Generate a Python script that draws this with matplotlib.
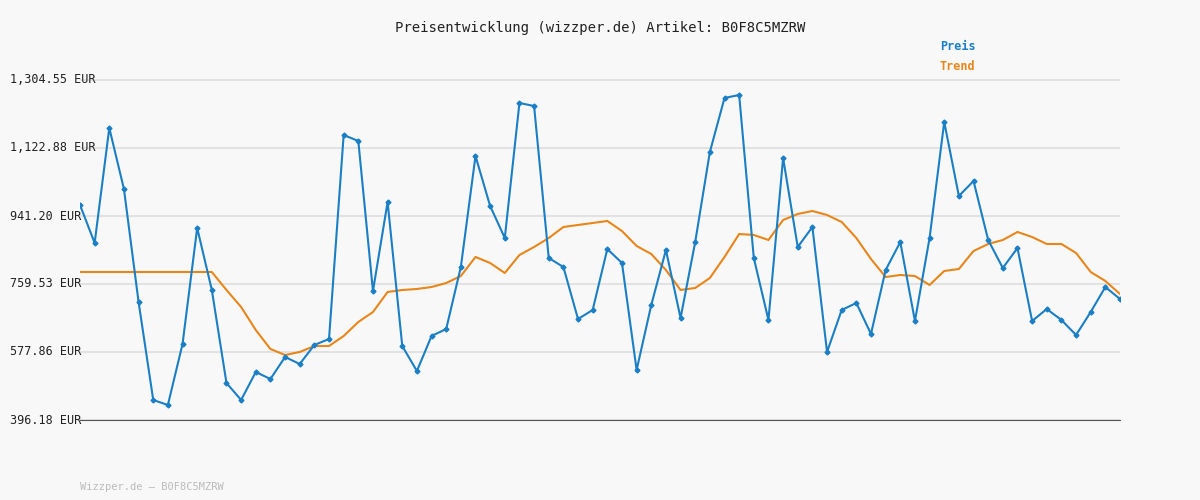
import matplotlib
matplotlib.use("Agg")
import matplotlib.pyplot as plt

preis = [970.6,869.1,1176.3,1013.3,711.4,449.6,436.3,599.2,909.2,743.5,
495.0,449.6,524.4,505.7,564.5,545.8,596.6,612.6,1157.6,1141.6,
740.8,978.6,593.9,527.1,620.6,639.3,805.0,1101.5,967.9,882.4,
1243.1,1235.1,829.0,805.0,666.0,690.1,853.0,815.6,529.8,703.4,
850.4,668.7,871.7,1112.2,1256.5,1264.5,829.0,663.4,1096.2,858.4,
911.8,577.9,690.1,708.8,626.0,796.9,871.7,660.7,882.4,1192.4,
994.6,1034.7,877.1,802.3,855.7,660.7,692.7,663.4,623.3,684.7,751.5,719.5]
trend = [791.6]*10 + [743.5,698.1,636.6,585.9,569.8,577.9,593.9,593.9,620.6,658.0,
684.7,738.2,743.5,746.2,751.5,762.2,780.9,831.7,815.6,788.9,
837.0,858.4,882.4,911.8,917.2,922.5,927.9,901.1,861.1,839.7,
796.9,743.5,748.9,775.6,831.7,893.1,890.5,877.1,930.5,946.6,
954.6,943.9,925.2,882.4,826.3,778.2,783.6,780.9,756.9,794.3,
799.6,847.7,866.4,877.1,898.5,885.1,866.4,866.4,842.4,791.6,767.6,732.8]
yticks = [396.18,577.86,759.53,941.20,1122.88,1304.55]
title = "Preisentwicklung (wizzper.de) Artikel: B0F8C5MZRW"

plt.rcParams['font.family'] = 'DejaVu Sans Mono'
fig = plt.figure(figsize=(12,5), dpi=100, facecolor='#f8f8f8')
ax = fig.add_axes([80/1200, 80/500, 1040/1200, 360/500])
ax.set_facecolor('#f8f8f8')
x = list(range(len(preis)))
ax.set_xlim(0, len(preis)-1)
step = (yticks[-1]-yticks[0])/340
ax.set_ylim(yticks[0], yticks[0]+360*step)
for v in yticks:
    ax.axhline(v, color='#e2e2e2', lw=1.5, zorder=0)
    ax.text(-70/1040*(len(preis)-1), v, f"{v:,.2f} EUR", ha='left', va='center',
            fontsize=8.5, color='#222222', clip_on=False)
ax.plot(x, trend, color='#e8861a', lw=1.5)
ax.plot(x, preis, color='#1a7fc4', lw=1.5, marker='D', ms=2.5)
for s in ['top','right','left']:
    ax.spines[s].set_visible(False)
ax.spines['bottom'].set_color('#555555')
ax.set_xticks([]); ax.set_yticks([])
fig.text(0.5, 1-28/500, title, ha='center', va='center', fontsize=10, color='#222222')
fig.text(940/1200, 1-47/500, "Preis", color='#1a7fc4', fontsize=8.5, weight='bold', va='center')
fig.text(940/1200, 1-67/500, "Trend", color='#e8861a', fontsize=8.5, weight='bold', va='center')
fig.text(80/1200, 1-487/500, "Wizzper.de – B0F8C5MZRW", color='#bbbbbb', fontsize=7.5, va='center')
fig.savefig("out.png", dpi=100, facecolor=fig.get_facecolor())
